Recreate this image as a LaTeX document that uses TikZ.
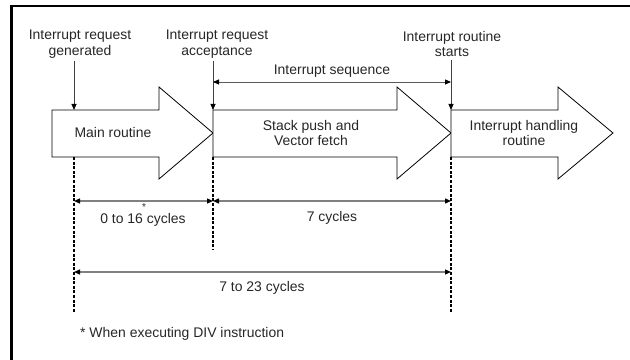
\documentclass[tikz,border=0pt]{standalone}
\usepackage{fontspec}
\setmainfont{Liberation Sans}
\usetikzlibrary{arrows.meta}
\tikzset{
  lbl/.style={align=center,inner sep=3bp,text=black!85,font=\fontsize{14}{16}\selectfont},
  bigarrow/.style={draw=black,line width=0.8bp,fill=white},
  evt/.style={draw=black!75,line width=0.8bp,-{Triangle[length=6bp,width=5bp,color=black]}},
  dim/.style={draw=black!50,line width=1.3bp,{Triangle[length=6bp,width=5bp,color=black]}-{Triangle[length=6bp,width=5bp,color=black]}},
  guide/.style={draw=black,line width=1.4bp,dash pattern=on 3bp off 1.6bp}
}
\begin{document}
\begin{tikzpicture}[x=1bp,y=1bp]
  \useasboundingbox (0bp,0bp) rectangle (630bp,360bp);
  \draw [line width=2.6bp] (11.5bp,-5bp) -- (11.5bp,353.8bp) -- (640bp,353.8bp);
  % big arrows
  \draw [bigarrow] (52bp,250bp) -- (159bp,250bp) -- (159bp,273bp) -- (213bp,227bp) -- (159bp,181bp) -- (159bp,203bp) -- (52bp,203bp) -- cycle;
  \draw [bigarrow] (213bp,250bp) -- (397bp,250bp) -- (397bp,273bp) -- (451bp,227bp) -- (397bp,181bp) -- (397bp,203bp) -- (213bp,203bp) -- cycle;
  \draw [bigarrow] (451bp,250bp) -- (558bp,250bp) -- (558bp,273bp) -- (613bp,227bp) -- (558bp,181bp) -- (558bp,203bp) -- (451bp,203bp) -- cycle;
  \node (Main) at (113bp,227bp) [lbl] {Main routine};
  \node (Push) at (311bp,227bp) [lbl] {Stack push and\\Vector fetch};
  \node (Hdl) at (524bp,227bp) [lbl] {Interrupt handling\\routine};
  % event labels
  \node (Gen) at (80bp,316bp) [lbl] {Interrupt request\\generated};
  \node (Acc) at (217bp,316bp) [lbl] {Interrupt request\\acceptance};
  \node (Start) at (452bp,316bp) [lbl] {Interrupt routine\\starts};
  \coordinate (T0) at (74bp,250bp);
  \coordinate (T1) at (213bp,250bp);
  \coordinate (T2) at (451bp,250bp);
  \draw [evt] (Gen.south -| T0) -- (T0);
  \draw [evt] (Acc.south -| T1) -- (T1);
  \draw [evt] (Start.south -| T2) -- (T2);
  % interrupt sequence
  \coordinate (S1) at (213bp,278bp);
  \coordinate (S2) at (451bp,278bp);
  \draw [dim,line width=0.9bp,draw=black!65] (S1) -- (S2);
  \node (Seq) at (332bp,289bp) [lbl] {Interrupt sequence};
  % guides
  \coordinate (B0) at (74bp,47bp);
  \coordinate (B1) at (213bp,110bp);
  \coordinate (B2) at (451bp,47bp);
  \draw [guide] (74bp,203bp) -- (B0);
  \draw [guide] (213bp,203bp) -- (B1);
  \draw [guide] (451bp,203bp) -- (B2);
  % cycle counts
  \coordinate (D0) at (74bp,159bp);
  \coordinate (D1) at (213bp,159bp);
  \coordinate (D2) at (451bp,159bp);
  \draw [dim] (D0) -- (D1);
  \draw [dim] (D1) -- (D2);
  \coordinate (E0) at (74bp,88bp);
  \coordinate (E2) at (451bp,88bp);
  \draw [dim] (E0) -- (E2);
  \node (Div) at (143bp,140bp) [lbl] {0 to 16 cycles};
  \node (Ast) at (144bp,153bp) [lbl,font=\fontsize{10}{12}\selectfont] {*};
  \node (Seven) at (332bp,142bp) [lbl] {7 cycles};
  \node (Total) at (262bp,72bp) [lbl] {7 to 23 cycles};
  \node (Note) at (77bp,26bp) [lbl,anchor=west] {* When executing DIV instruction};
\end{tikzpicture}
\end{document}
